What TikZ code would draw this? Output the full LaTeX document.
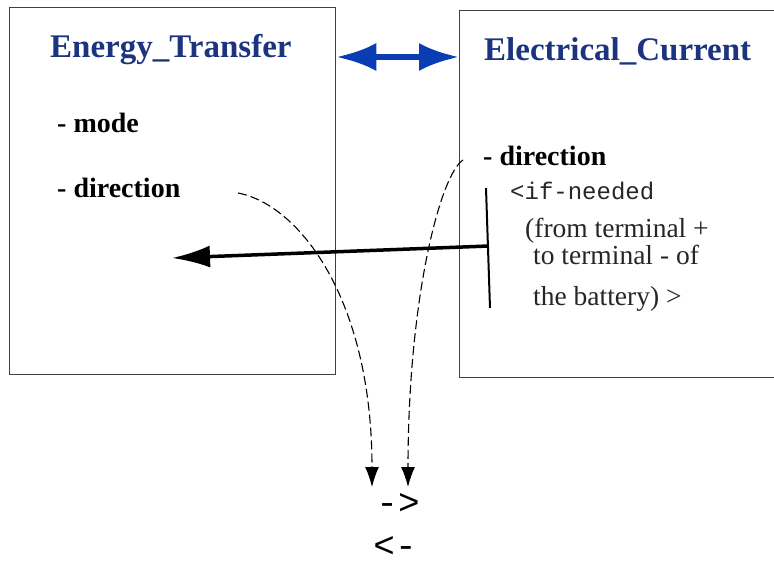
\documentclass[tikz,border=0pt]{standalone}
\usepackage{fontspec}
\setmainfont{Liberation Serif}
\newfontfamily\monofont{Liberation Mono}
\usetikzlibrary{arrows.meta}
\definecolor{titleblue}{RGB}{28,52,128}
\definecolor{arrowblue}{RGB}{10,60,180}
\begin{document}
\begin{tikzpicture}[x=1pt,y=-1pt,
  box/.style={draw=black!75, line width=1.3pt, anchor=north west, inner sep=0},
  titletext/.style={font=\bfseries\fontsize{33}{33}\selectfont, text=titleblue, anchor=base west, inner sep=0},
  attr/.style={font=\bfseries\fontsize{28}{28}\selectfont, anchor=base west, inner sep=0},
  note/.style={font=\fontsize{27.5}{28}\selectfont, anchor=base west, inner sep=0, text=black!85},
  monote/.style={font=\monofont\fontsize{24}{24}\selectfont, anchor=base west, inner sep=0, text=black!85},
  sym/.style={font=\monofont\fontsize{36}{36}\selectfont, inner sep=0, anchor=base, text depth=0pt},
  link/.style={line width=1.1pt, dash pattern=on 9pt off 4pt, -{Latex[length=20pt,width=14pt]}}]
\clip (0,0) rectangle (774,567);
% boxes
\node[box, minimum width=326pt, minimum height=367pt] (et) at (9,7) {};
\node[box, minimum width=330pt, minimum height=367pt] (ec) at (459,10) {};
% titles
\node[titletext] (etT) at (50,58) {Energy\_Transfer};
\node[titletext] (ecT) at (484,61) {Electrical\_Current};
% attributes
\node[attr] (mode) at (57,133) {- mode};
\node[attr] (ldir) at (57,197) {- direction};
\node[attr] (rdir) at (483,165) {- direction};
\node[monote] (ifn) at (510,199) {<if-needed};
\node[note] (l1) at (525,237) {(from terminal +};
\node[note] (l2) at (533,264) {to terminal - of};
\node[note] (l3) at (533,305) {the battery) >};
% symbols below
\node[sym] (arrR) at (398,514) {->};
\node[sym] (arrL) at (395,557) {<-};
% blue double arrow between boxes
\coordinate (ba) at (335,57);
\draw[arrowblue, line width=6pt, {Latex[length=40pt,width=28pt]}-{Latex[length=40pt,width=28pt]}]
  (et.east |- ba) -- (ec.west |- ba);
% bracket line and black arrow
\coordinate (vtop) at (486,188);
\coordinate (vbot) at (490,308);
\coordinate (hstart) at (489,246);
\coordinate (hend) at (172,258);
\draw[line width=2pt] (vtop) -- (vbot);
\draw[line width=3.5pt, -{Latex[length=38pt,width=22pt]}] (hstart) -- (hend);
% dashed links to the "->" symbol
\coordinate (s1) at (238,193);
\coordinate (e1) at (372,487);
\coordinate (s2) at (463,160);
\coordinate (e2) at (408,487);
\draw[link] (s1) .. controls (300,205) and (372,300) .. (e1);
\draw[link] (s2) .. controls (440,175) and (408,300) .. (e2);
\end{tikzpicture}
\end{document}
